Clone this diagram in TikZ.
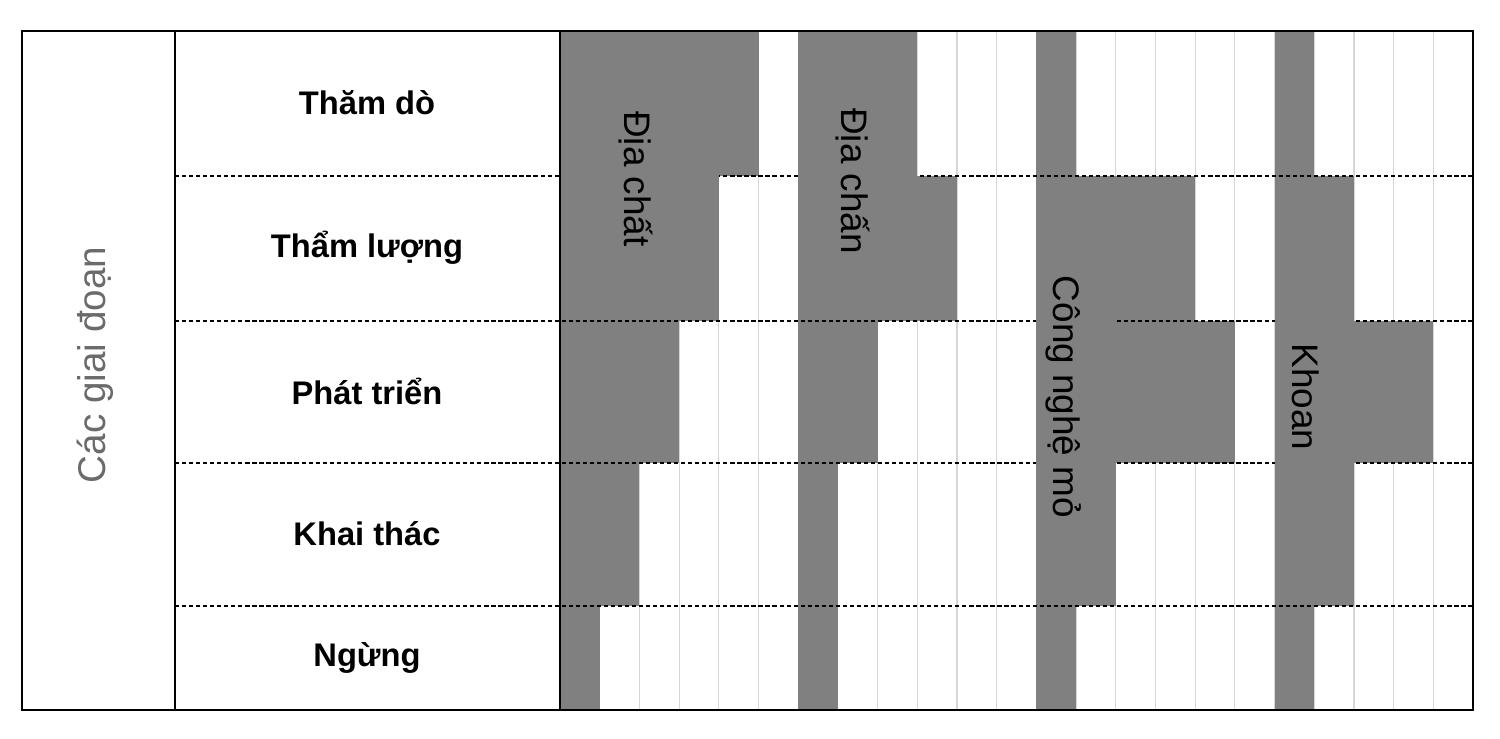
\documentclass[tikz,border=0pt]{standalone}
\usepackage{fontspec}
\setmainfont{Liberation Sans}
\usepackage{tikz}
\usetikzlibrary{positioning}
\definecolor{tonefill}{rgb}{0.5,0.5,0.5}
\definecolor{tonegrid}{rgb}{0.84,0.84,0.84}
\definecolor{tonetext}{rgb}{0.42,0.42,0.42}

\begin{document}
\begin{tikzpicture}[x=0.1mm, y=-0.1mm,
  stage/.style = {font=\bfseries\fontsize{9.3}{11}\selectfont},
  task/.style = {font=\fontsize{10.5}{12}\selectfont, rotate=-90},
  rowline/.style = {line width=0.6pt, dash pattern=on 1.2pt off 0.8pt},
  frame/.style = {line width=0.7pt}
]
\useasboundingbox (0,0) rectangle (1500,738);

% thin column lines
\foreach \k in {1,...,22}
  \draw[tonegrid, line width=0.3pt] ({560+39.7*\k},31) -- ({560+39.7*\k},710);

% gray cells: first column of the group, then cells per row
\foreach \g/\a/\b/\c/\d/\e in {0/5/4/3/2/1, 6/3/4/2/1/1, 12/1/4/5/2/1, 18/1/2/4/2/1} {
  \foreach \n/\top/\bot in {\a/31/176, \b/176/321, \c/321/463, \d/463/606, \e/606/710}
    \fill[tonefill] ({560+39.7*\g},\top) rectangle ({560+39.7*(\g+\n)},\bot);
}

\foreach \y in {176,321,463,606}
  \draw[rowline] (175,\y) -- (1473,\y);

% label bars
\fill[tonefill] (560,31) rectangle ({560+39.7*4},319);
\fill[tonefill] ({560+39.7*6},31) rectangle ({560+39.7*9},319);
\fill[tonefill] ({560+39.7*12},178) rectangle ({560+39.7*14},604);
\fill[tonefill] ({560+39.7*18},178) rectangle ({560+39.7*20},604);

\node[task] (geo) at (636,179) {Địa chất};
\node[task] (seis) at (853,181) {Địa chấn};
\node[task] (mine) at (1064,397) {Công nghệ mỏ};
\node[task] (drill) at (1306,397) {Khoan};

\node[font=\fontsize{11}{13}\selectfont, text=tonetext, rotate=90] (phases) at (95,365) {Các giai đoạn};

\foreach \name/\y [count=\r] in {Thăm dò/103, Thẩm lượng/248, Phát triển/391, Khai thác/534, Ngừng/658}
  \node[stage] (s\r) at (367,\y) {\name};

\draw[frame] (22,31) rectangle (1473,710);
\draw[frame] (175,31) -- (175,710);
\draw[frame] (560,31) -- (560,710);
\end{tikzpicture}
\end{document}
